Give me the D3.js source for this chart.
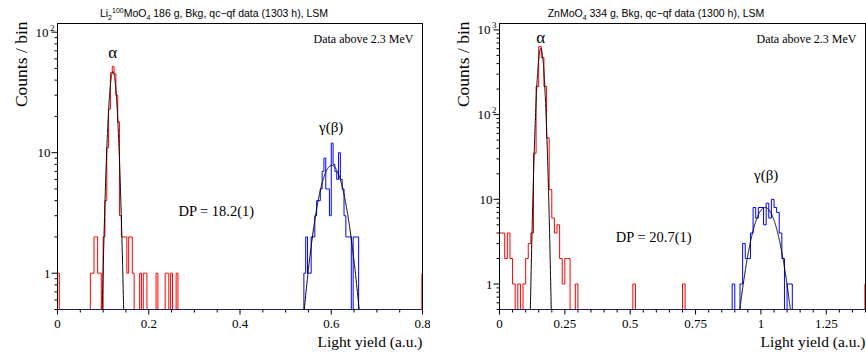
<!DOCTYPE html>
<html><head><meta charset="utf-8">
<script src="https://cdn.jsdelivr.net/npm/d3@7"></script>
<style>body{margin:0;background:#fff}</style>
</head><body><svg id="c" width="866" height="356" xmlns="http://www.w3.org/2000/svg"></svg>
<script>
// ---------------- Left panel: Li2 100MoO4 ----------------
const liXDomain = [0, 0.8];
const liYDomain = [0.5, 118];
const liBinWidth = 0.004;
const liXTicks = [0, 0.2, 0.4, 0.6, 0.8];
const liXTickLabels = ["0", "0.2", "0.4", "0.6", "0.8"];
const liYTicks = [1, 10, 100];
const liYTickBase = ["1", "10", "10"];
const liYTickExp = ["", "", "2"];
// alpha (red) histogram: bin index -> counts
const liRedBins   = [0, 18, 19, 20, 21, 22, 23, 25, 26, 27, 28, 29, 30, 31, 32, 33, 34, 35, 36, 37, 38, 39, 40, 41, 45, 47, 48, 54, 59, 60, 62, 65];
const liRedCounts = [1, 1, 1, 2, 2, 1, 1, 2, 4, 11, 23, 46, 52, 45, 30, 18, 3, 2, 2, 2, 1, 2, 2, 1, 1, 1, 1, 1, 1, 1, 1, 1];
// gamma(beta) (blue) histogram
const liBlueBins   = [135, 136, 137, 138, 139, 140, 141, 142, 143, 144, 145, 146, 147, 148, 149, 150, 151, 152, 153, 154, 155, 156, 157, 158, 159, 160, 162, 163, 164];
const liBlueCounts = [1, 2, 1, 1, 2, 2, 3, 4, 4, 5, 7, 9, 5, 5, 3, 12, 8, 7, 6, 10, 6, 5, 3, 2, 2, 2, 2, 2, 2];
const liRedEdge = 1;
// Gaussian fits: [amplitude, mean, sigma]
const liAlphaFit = [47, 0.1215, 0.0078];
const liGammaFit = [7.85, 0.601, 0.0256];

// ---------------- Right panel: ZnMoO4 ----------------
const znXDomain = [0, 1.4];
const znYDomain = [0.5, 1190];
const znBinWidth = 0.01;
const znXTicks = [0, 0.25, 0.5, 0.75, 1, 1.25];
const znXTickLabels = ["0", "0.25", "0.5", "0.75", "1", "1.25"];
const znYTicks = [1, 10, 100, 1000];
const znYTickBase = ["1", "10", "10", "10"];
const znYTickExp = ["", "", "2", "3"];
const znRedBins   = [0, 1, 2, 3, 4, 5, 7, 9, 10, 11, 12, 13, 14, 15, 16, 17, 18, 19, 20, 21, 22, 23, 24, 25, 26, 29, 51, 70];
const znRedCounts = [4, 4, 2, 4, 2, 1, 1, 1, 2, 3, 4, 35, 215, 635, 470, 215, 53, 13, 6, 4, 5, 2, 1, 2, 2, 1, 1, 1];
const znBlueBins   = [89, 92, 93, 94, 95, 96, 97, 98, 99, 100, 101, 102, 103, 104, 105, 106, 107, 108, 110, 111];
const znBlueCounts = [1, 1, 3, 2, 2, 4, 8, 6, 8, 8, 5, 9, 6, 10, 8, 7, 4, 2, 1, 1];
const znRedEdge = 1;
const znAlphaFit = [605, 0.158, 0.0106];
const znGammaFit = [8.0, 1.016, 0.041];

const svg = d3.select("#c");
svg.append("rect").attr("width", 866).attr("height", 356).attr("fill", "#fff");
const defs = svg.append("defs");
const SERIF = "'Liberation Serif', 'Times New Roman', serif";
const SANS = "'Liberation Sans', Arial, sans-serif";

function drawPanel(p) {
  defs.append("clipPath").attr("id", "pad" + p.id)
    .append("rect").attr("x", p.padX0).attr("y", 0).attr("width", p.padX1 - p.padX0).attr("height", 356);
  defs.append("clipPath").attr("id", "frame" + p.id)
    .append("rect").attr("x", p.left).attr("y", p.top).attr("width", p.right - p.left).attr("height", p.bottom - p.top + 1);

  const g = svg.append("g").attr("clip-path", `url(#pad${p.id})`);
  const x = d3.scaleLinear().domain(p.xDomain).range([p.left, p.right]);
  const y = d3.scaleLog().domain(p.yDomain).range([p.bottom, p.top]);
  const nBins = Math.round((p.xDomain[1] - p.xDomain[0]) / p.binWidth);

  const plot = g.append("g").attr("clip-path", `url(#frame${p.id})`);

  function fullCounts(bins, counts) {
    const arr = new Array(nBins).fill(0);
    bins.forEach((b, i) => { arr[b] = counts[i]; });
    return arr;
  }
  const yv = c => c > 0 ? y(c) : p.bottom;
  function histPath(arr) {
    let d = `M${x(p.xDomain[0])},${p.bottom}`;
    arr.forEach((c, i) => {
      const x0 = x(p.xDomain[0] + i * p.binWidth), x1 = x(p.xDomain[0] + (i + 1) * p.binWidth);
      d += `L${x0},${yv(c)}L${x1},${yv(c)}`;
    });
    d += `L${x(p.xDomain[1])},${p.bottom}`;
    return d;
  }
  plot.append("path").attr("d", histPath(fullCounts(p.redBins, p.redCounts)))
    .attr("fill", "none").attr("stroke", "#ff0000").attr("stroke-width", 1);
  plot.append("path").attr("d", histPath(fullCounts(p.blueBins, p.blueCounts)))
    .attr("fill", "none").attr("stroke", "#0000ff").attr("stroke-width", 1);
  // red entry at the right edge
  plot.append("line").attr("x1", x(p.xDomain[1]) - 0.5).attr("x2", x(p.xDomain[1]) - 0.5)
    .attr("y1", y(p.redEdge)).attr("y2", p.bottom).attr("stroke", "#ff0000").attr("stroke-width", 1.2);

  // fits
  const line = d3.line().x(d => x(d[0])).y(d => y(d[1]));
  [p.alphaFit, p.gammaFit].forEach(f => {
    const [A, m, s] = f;
    const half = s * Math.sqrt(2 * Math.log(A / p.yDomain[0]));
    const pts = d3.range(0, 401).map(k => {
      const xv = m - half + (2 * half) * k / 400;
      return [xv, Math.max(p.yDomain[0], A * Math.exp(-0.5 * ((xv - m) / s) ** 2))];
    });
    plot.append("path").attr("d", line(pts)).attr("fill", "none").attr("stroke", "#000").attr("stroke-width", 1);
  });

  // frame
  g.append("rect").attr("x", p.left).attr("y", p.top).attr("width", p.right - p.left).attr("height", p.bottom - p.top)
    .attr("fill", "none").attr("stroke", "#000").attr("stroke-width", 1);
  g.append("line").attr("x1", p.left).attr("x2", p.right).attr("y1", p.bottom).attr("y2", p.bottom)
    .attr("stroke", "#1e1e58").attr("stroke-width", 1.2);

  // x ticks (outward, down)
  const step = p.minorStep;
  const nMinor = Math.round((p.xDomain[1] - p.xDomain[0]) / step);
  d3.range(0, nMinor + 1).forEach(k => {
    const v = p.xDomain[0] + k * step;
    const isMajor = p.xTicks.some(t => Math.abs(t - v) < 1e-9);
    g.append("line").attr("x1", x(v)).attr("x2", x(v)).attr("y1", p.bottom).attr("y2", p.bottom + (isMajor ? 5 : 3))
      .attr("stroke", "#000").attr("stroke-width", 1);
  });
  p.xTicks.forEach((t, i) => {
    g.append("text").attr("x", x(t)).attr("y", 328).attr("text-anchor", "middle")
      .attr("font-family", SERIF).attr("font-size", 13).attr("fill", "#000").text(p.xTickLabels[i]);
  });
  g.append("text").attr("x", p.right).attr("y", 347).attr("text-anchor", "end")
    .attr("font-family", SERIF).attr("font-size", 15.5).attr("fill", "#000").text("Light yield (a.u.)");

  // y ticks (log, outward, left)
  const lo = Math.floor(Math.log10(p.yDomain[0])), hi = Math.ceil(Math.log10(p.yDomain[1]));
  for (let e = lo; e <= hi; e++) {
    for (let m = 1; m <= 9; m++) {
      const v = m * Math.pow(10, e);
      if (v < p.yDomain[0] || v > p.yDomain[1]) continue;
      g.append("line").attr("x1", p.left).attr("x2", p.left - (m === 1 ? 6 : 3))
        .attr("y1", y(v)).attr("y2", y(v)).attr("stroke", "#000").attr("stroke-width", 1);
    }
  }
  p.yTicks.forEach((t, i) => {
    const tx = g.append("text").attr("y", y(t) + 4.5).attr("font-family", SERIF).attr("font-size", 13).attr("fill", "#000");
    if (p.yTickExp[i]) {
      tx.attr("x", p.left - 9).attr("text-anchor", "end").text(p.yTickBase[i]);
      g.append("text").attr("x", p.left - 7.5).attr("y", y(t) - 1.5).attr("font-family", SERIF).attr("font-size", 9)
        .attr("fill", "#000").text(p.yTickExp[i]);
    } else {
      tx.attr("x", p.left - 7).attr("text-anchor", "end").text(p.yTickBase[i]);
    }
  });
  g.append("text").attr("transform", `translate(${p.left - 31},${p.top - 2}) rotate(-90)`).attr("text-anchor", "end")
    .attr("font-family", SERIF).attr("font-size", 17.5).attr("fill", "#000").text("Counts / bin");

  // title
  const tt = g.append("text").attr("x", p.titleX).attr("y", 17).attr("text-anchor", "middle")
    .attr("font-family", SANS).attr("font-size", 10.5).attr("fill", "#000");
  p.title.forEach(seg => {
    const ts = tt.append("tspan").text(seg[0]);
    if (seg[1] === "sub") ts.attr("font-size", 7).attr("dy", 2.5);
    else if (seg[1] === "sup") ts.attr("font-size", 7).attr("dy", -6.5);
    else if (seg[1] === "back") ts.attr("dy", 4);
    else if (seg[1] === "up") ts.attr("dy", -2.5);
  });

  // annotations
  g.append("text").attr("x", p.right - 9).attr("y", 43).attr("text-anchor", "end")
    .attr("font-family", SERIF).attr("font-size", 12).attr("fill", "#000").text("Data above 2.3 MeV");
  g.append("text").attr("x", x(p.alphaLabel[0])).attr("y", p.alphaLabel[1]).attr("text-anchor", "middle")
    .attr("font-family", SERIF).attr("font-size", 17).attr("fill", "#000").text("α");
  g.append("text").attr("x", x(p.gammaLabel[0])).attr("y", p.gammaLabel[1]).attr("text-anchor", "middle")
    .attr("font-family", SERIF).attr("font-size", 15).attr("fill", "#000").text("γ(β)");
  g.append("text").attr("x", x(p.dpLabel[0])).attr("y", p.dpLabel[1]).attr("text-anchor", "start")
    .attr("font-family", SERIF).attr("font-size", 14.5).attr("fill", "#000").text(p.dpText);
}

drawPanel({
  id: "L", padX0: 0, padX1: 430,
  left: 57.5, right: 422.5, top: 23.5, bottom: 309.5,
  xDomain: liXDomain, yDomain: liYDomain, binWidth: liBinWidth, minorStep: 0.05,
  xTicks: liXTicks, xTickLabels: liXTickLabels,
  yTicks: liYTicks, yTickBase: liYTickBase, yTickExp: liYTickExp,
  redBins: liRedBins, redCounts: liRedCounts, blueBins: liBlueBins, blueCounts: liBlueCounts,
  redEdge: liRedEdge, alphaFit: liAlphaFit, gammaFit: liGammaFit,
  titleX: 214,
  title: [["Li"], ["2", "sub"], ["100", "sup"], ["MoO", "back"], ["4", "sub"], [" 186 g, Bkg, qc\u2212qf data (1303 h), LSM", "up"]],
  alphaLabel: [0.121, 58], gammaLabel: [0.6, 132], dpLabel: [0.265, 216], dpText: "DP = 18.2(1)"
});
drawPanel({
  id: "R", padX0: 433, padX1: 866,
  left: 499.5, right: 865.5, top: 23.5, bottom: 309.5,
  xDomain: znXDomain, yDomain: znYDomain, binWidth: znBinWidth, minorStep: 0.05,
  xTicks: znXTicks, xTickLabels: znXTickLabels,
  yTicks: znYTicks, yTickBase: znYTickBase, yTickExp: znYTickExp,
  redBins: znRedBins, redCounts: znRedCounts, blueBins: znBlueBins, blueCounts: znBlueCounts,
  redEdge: znRedEdge, alphaFit: znAlphaFit, gammaFit: znGammaFit,
  titleX: 656,
  title: [["ZnMoO"], ["4", "sub"], [" 334 g, Bkg, qc\u2212qf data (1300 h), LSM", "up"]],
  alphaLabel: [0.158, 43], gammaLabel: [1.02, 180], dpLabel: [0.445, 242], dpText: "DP = 20.7(1)"
});
</script></body></html>
